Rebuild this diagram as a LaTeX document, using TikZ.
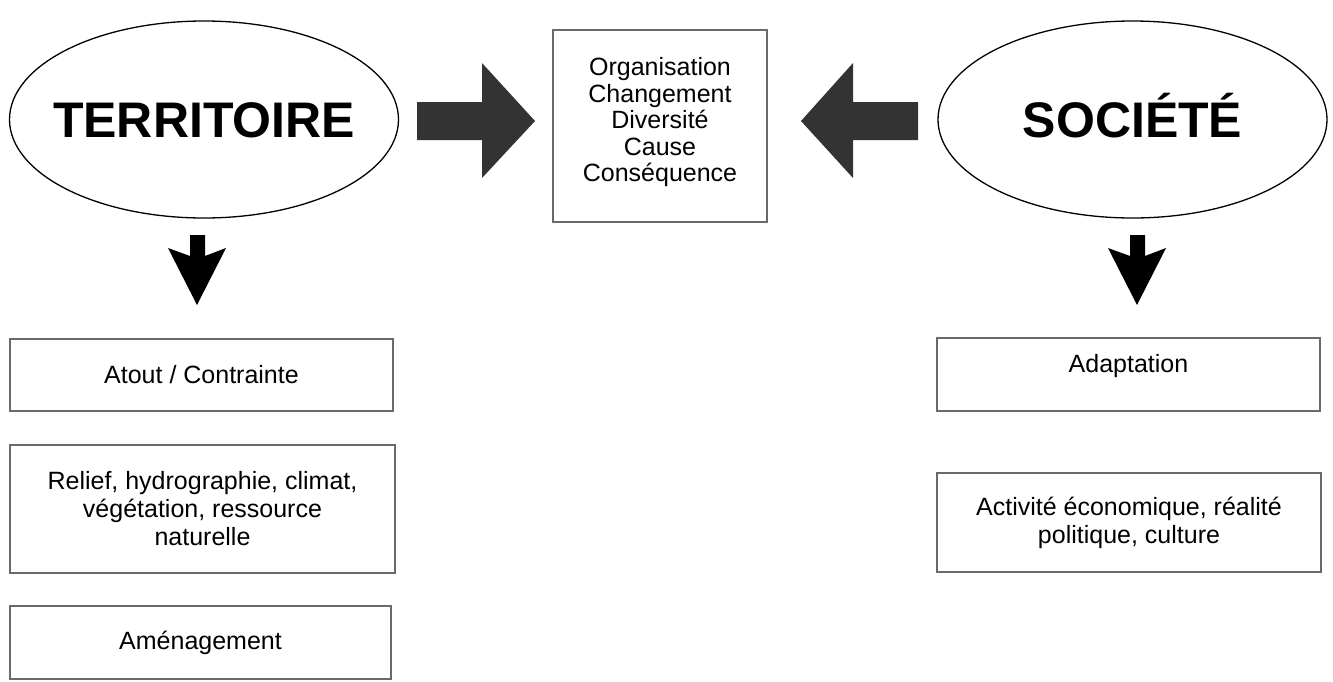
\documentclass[tikz,border=0pt]{standalone}
\usepackage{fontspec}
\setmainfont{Liberation Sans}
\usepackage{tikz}
\usetikzlibrary{shapes.geometric}
\definecolor{boxgray}{HTML}{6A6A6A}
\definecolor{arrowgray}{HTML}{333333}
\tikzstyle{big ellipse} = [ellipse,draw=black,line width=1.3pt,
                           inner xsep=-30pt,inner ysep=0pt,text height=36pt,text depth=0pt,
                           minimum width=389pt,minimum height=197pt,
                           font=\fontsize{50}{56}\selectfont\bfseries]
\tikzstyle{theme box}   = [rectangle,draw=boxgray,line width=2.4pt,inner sep=0,
                           align=center,font=\fontsize{25}{28}\selectfont]
\tikzstyle{fat arrow}   = [fill=arrowgray]
\tikzstyle{down arrow}  = [fill=black]

\begin{document}
\begin{tikzpicture}[x=1pt,y=-1pt]
\useasboundingbox (0,0) rectangle (1333,681);

    % the two poles
    \node(terr)[big ellipse] at (204,119.5) {TERRITOIRE};
    \node(soc)[big ellipse] at (1132.5,119.5) {SOCIÉTÉ};

    % concepts in the middle
    \node(concepts)[theme box, minimum width=214pt, minimum height=192pt,
                    font=\fontsize{25}{26.5}\selectfont, text depth=13pt]
        at (660,126) {Organisation\\Changement\\Diversité\\Cause\\Conséquence};

    % left column
    \node(atout)[theme box, minimum width=383pt, minimum height=72pt] at (201.5,375) {Atout / Contrainte};
    \node(relief)[theme box, minimum width=385pt, minimum height=128pt] at (202.5,509)
        {Relief, hydrographie, climat,\\végétation, ressource\\naturelle};
    \node(amenag)[theme box, minimum width=381pt, minimum height=73pt] at (200.5,642.5) {Aménagement};

    % right column
    \node(adapt)[theme box, minimum width=383pt, minimum height=73pt,
                 text height=18pt, text depth=23pt] at (1128.5,374.5) {Adaptation};
    \node(activ)[theme box, minimum width=384pt, minimum height=99pt] at (1129,522.5)
        {Activité économique, réalité\\politique, culture};

    % big arrows towards the concepts
    \fill[fat arrow] (417,102) -- (482,102) -- (482,63) -- (535,121)
                     -- (482,178) -- (482,140) -- (417,140) -- cycle;
    \fill[fat arrow] (918,102) -- (853,102) -- (853,63) -- (801,121)
                     -- (853,178) -- (853,140) -- (918,140) -- cycle;

    % arrows down to the columns
    \fill[down arrow] (190,235) -- (205,235) -- (205,256) -- (226,248)
                      -- (197,305) -- (168,248) -- (190,256) -- cycle;
    \fill[down arrow] (1130,235) -- (1145,235) -- (1145,256) -- (1166,248)
                      -- (1137,305) -- (1108,248) -- (1130,256) -- cycle;

\end{tikzpicture}
\end{document}
